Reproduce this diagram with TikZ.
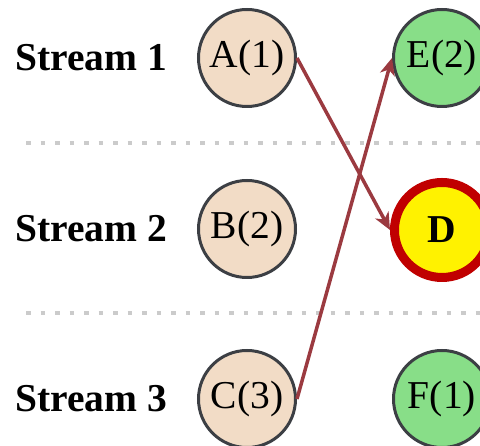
\documentclass[tikz,border=0pt]{standalone}
\usepackage{fontspec}
\setmainfont{Liberation Serif}
\usetikzlibrary{arrows.meta}
\definecolor{peach}{HTML}{F2DCC6}
\definecolor{leaf}{HTML}{88DE88}
\definecolor{rim}{HTML}{3C3F44}
\definecolor{linkred}{HTML}{9B3A40}
\definecolor{hotred}{HTML}{C00000}
\definecolor{sep}{HTML}{CBCBCB}
\tikzset{
  x=1pt, y=1pt,
  txt/.style={font=\fontsize{39.5}{41}\selectfont, inner sep=0pt},
  streamlabel/.style={txt, font=\fontsize{39.5}{41}\selectfont\bfseries, anchor=base},
  evt/.style={circle, draw=rim, line width=3pt, minimum size=97pt, inner sep=0pt, txt},
  src/.style={evt, fill=peach},
  dst/.style={evt, fill=leaf},
  hit/.style={circle, draw=hotred, fill=yellow, line width=9pt, minimum size=95pt, inner sep=0pt, txt, font=\fontsize{39.5}{41}\selectfont\bfseries},
  link/.style={draw=linkred, line width=3.5pt, -{Stealth[length=17pt, width=15pt, inset=5pt]}},
  divider/.style={draw=sep, line width=4.5pt, dash pattern=on 4.5pt off 10pt}
}
\begin{document}
\begin{tikzpicture}
\useasboundingbox (0,0) rectangle (480,446);
% row separators
\coordinate (s1a) at (26,303);
\coordinate (s1b) at (480,303);
\coordinate (s2a) at (26,133);
\coordinate (s2b) at (480,133);
\draw[divider] (s1a) -- (s1b);
\draw[divider] (s2a) -- (s2b);
% stream labels
\node[streamlabel] (l1) at (91,375) {Stream 1};
\node[streamlabel] (l2) at (91,204) {Stream 2};
\node[streamlabel] (l3) at (91,34) {Stream 3};
% events
\node[src] (A) at (247,388) {A(1)};
\node[src] (B) at (247,217) {B(2)};
\node[src] (C) at (247,47) {C(3)};
\node[dst] (E) at (442,388) {E(2)};
\node[hit] (D) at (442,216) {D};
\node[dst] (F) at (442,47) {F(1)};
% links
\draw[link] (A.east) -- (D.west);
\draw[link] (C.east) -- (E.west);
\end{tikzpicture}
\end{document}
